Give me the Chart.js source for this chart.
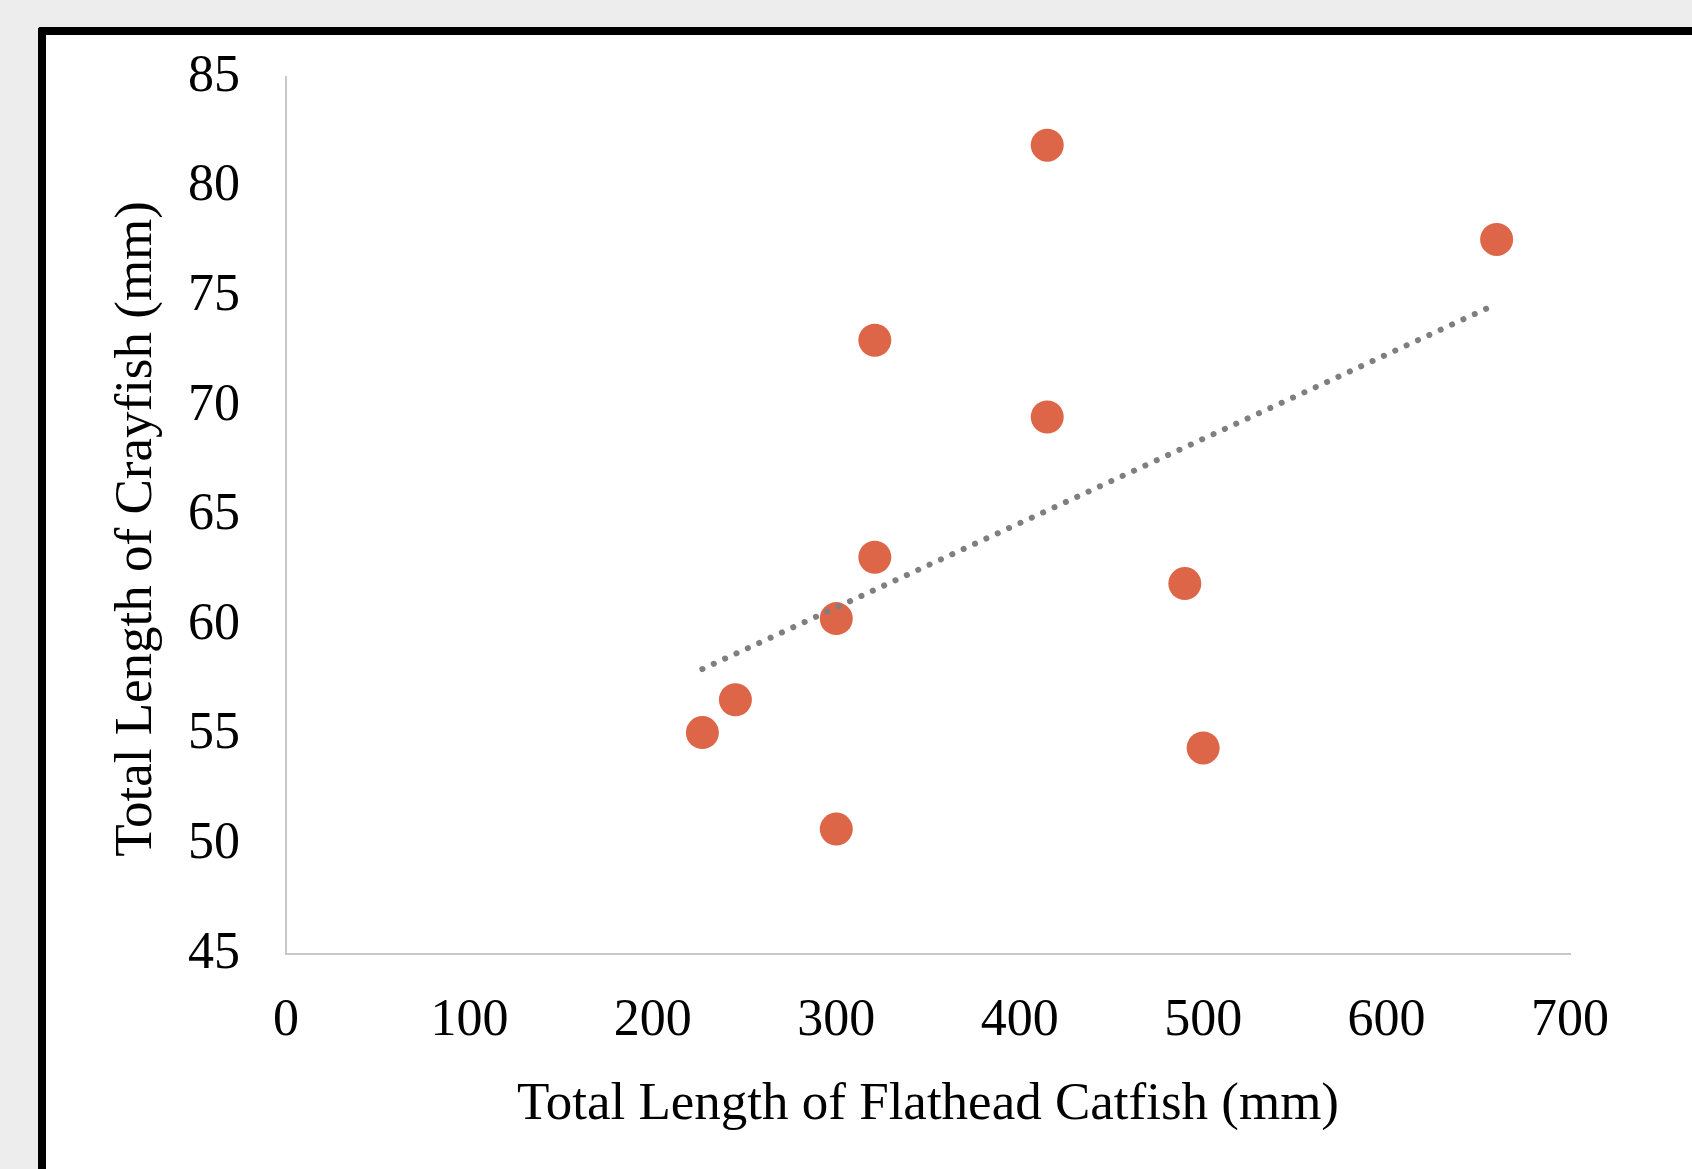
<!DOCTYPE html>
<html>
<head>
<meta charset="utf-8">
<title>Flathead Catfish vs Crayfish</title>
<script src="https://cdn.jsdelivr.net/npm/chart.js@4.4.1/dist/chart.umd.min.js"></script>
<style>
  html, body { margin: 0; padding: 0; background: #ededed; overflow: hidden; }
  #frame {
    position: absolute; left: 38px; top: 27px;
    width: 1800px; height: 1300px;
    background: #fff;
    border-left: 8px solid #000; border-top: 8px solid #000;
    border-top-left-radius: 3px;
  }
  #wrap { position: absolute; left: 0; top: 0; width: 1692px; height: 1169px; }
</style>
</head>
<body>
<div id="frame"></div>
<div id="wrap"><canvas id="chart" width="1692" height="1169"></canvas></div>
<script>
// values
const catfishLengths  = [415, 660, 321, 415, 321, 490, 300, 245, 227, 500, 300];
const crayfishLengths = [81.9, 77.6, 73.0, 69.5, 63.1, 61.9, 60.3, 56.6, 55.1, 54.4, 50.7];

// linear trendline end points
const trendX = [227, 656];
const trendY = [58.0, 74.5];

const serif = "'Liberation Serif', 'Times New Roman', serif";

const points = catfishLengths.map((x, i) => ({ x, y: crayfishLengths[i] }));
const trend = trendX.map((x, i) => ({ x, y: trendY[i] }));

new Chart(document.getElementById("chart").getContext("2d"), {
  type: "scatter",
  data: {
    datasets: [
      {
        label: "Trend",
        data: trend,
        showLine: true,
        pointRadius: 0,
        borderColor: "#7f7f7f",
        borderWidth: 6,
        borderDash: [0.1, 12.4],
        borderCapStyle: "round",
        order: 0,
      },
      {
        label: "Crayfish",
        data: points,
        pointRadius: 16.5,
        pointHoverRadius: 16.5,
        backgroundColor: "#dd6548",
        borderWidth: 0,
        order: 1,
      },
    ],
  },
  options: {
    responsive: false,
    animation: false,
    layout: { padding: { left: 0, top: 76, right: 122, bottom: 0 } },
    plugins: { legend: { display: false }, tooltip: { enabled: false } },
    scales: {
      x: {
        type: "linear",
        min: 0, max: 700,
        grid: { display: false, drawTicks: false },
        border: { display: true, color: "#c8c8c8", width: 2 },
        ticks: { stepSize: 100, padding: 36, color: "#000", font: { family: serif, size: 52 } },
        title: {
          display: true, text: "Total Length of Flathead Catfish (mm)",
          color: "#000", font: { family: serif, size: 53 }, padding: { top: 0, bottom: 32 },
        },
        afterFit: s => { s.height = 215; },
      },
      y: {
        type: "linear",
        min: 45, max: 85,
        grid: { display: false, drawTicks: false },
        border: { display: true, color: "#c8c8c8", width: 2 },
        ticks: { stepSize: 5, padding: 46, color: "#000", font: { family: serif, size: 52 } },
        title: {
          display: true, text: "Total Length of Crayfish (mm)  ",
          color: "#000", font: { family: serif, size: 53 }, padding: { top: 105, bottom: 0 },
        },
        afterFit: s => { s.width = 286; },
      },
    },
  },
});
</script>
</body>
</html>
